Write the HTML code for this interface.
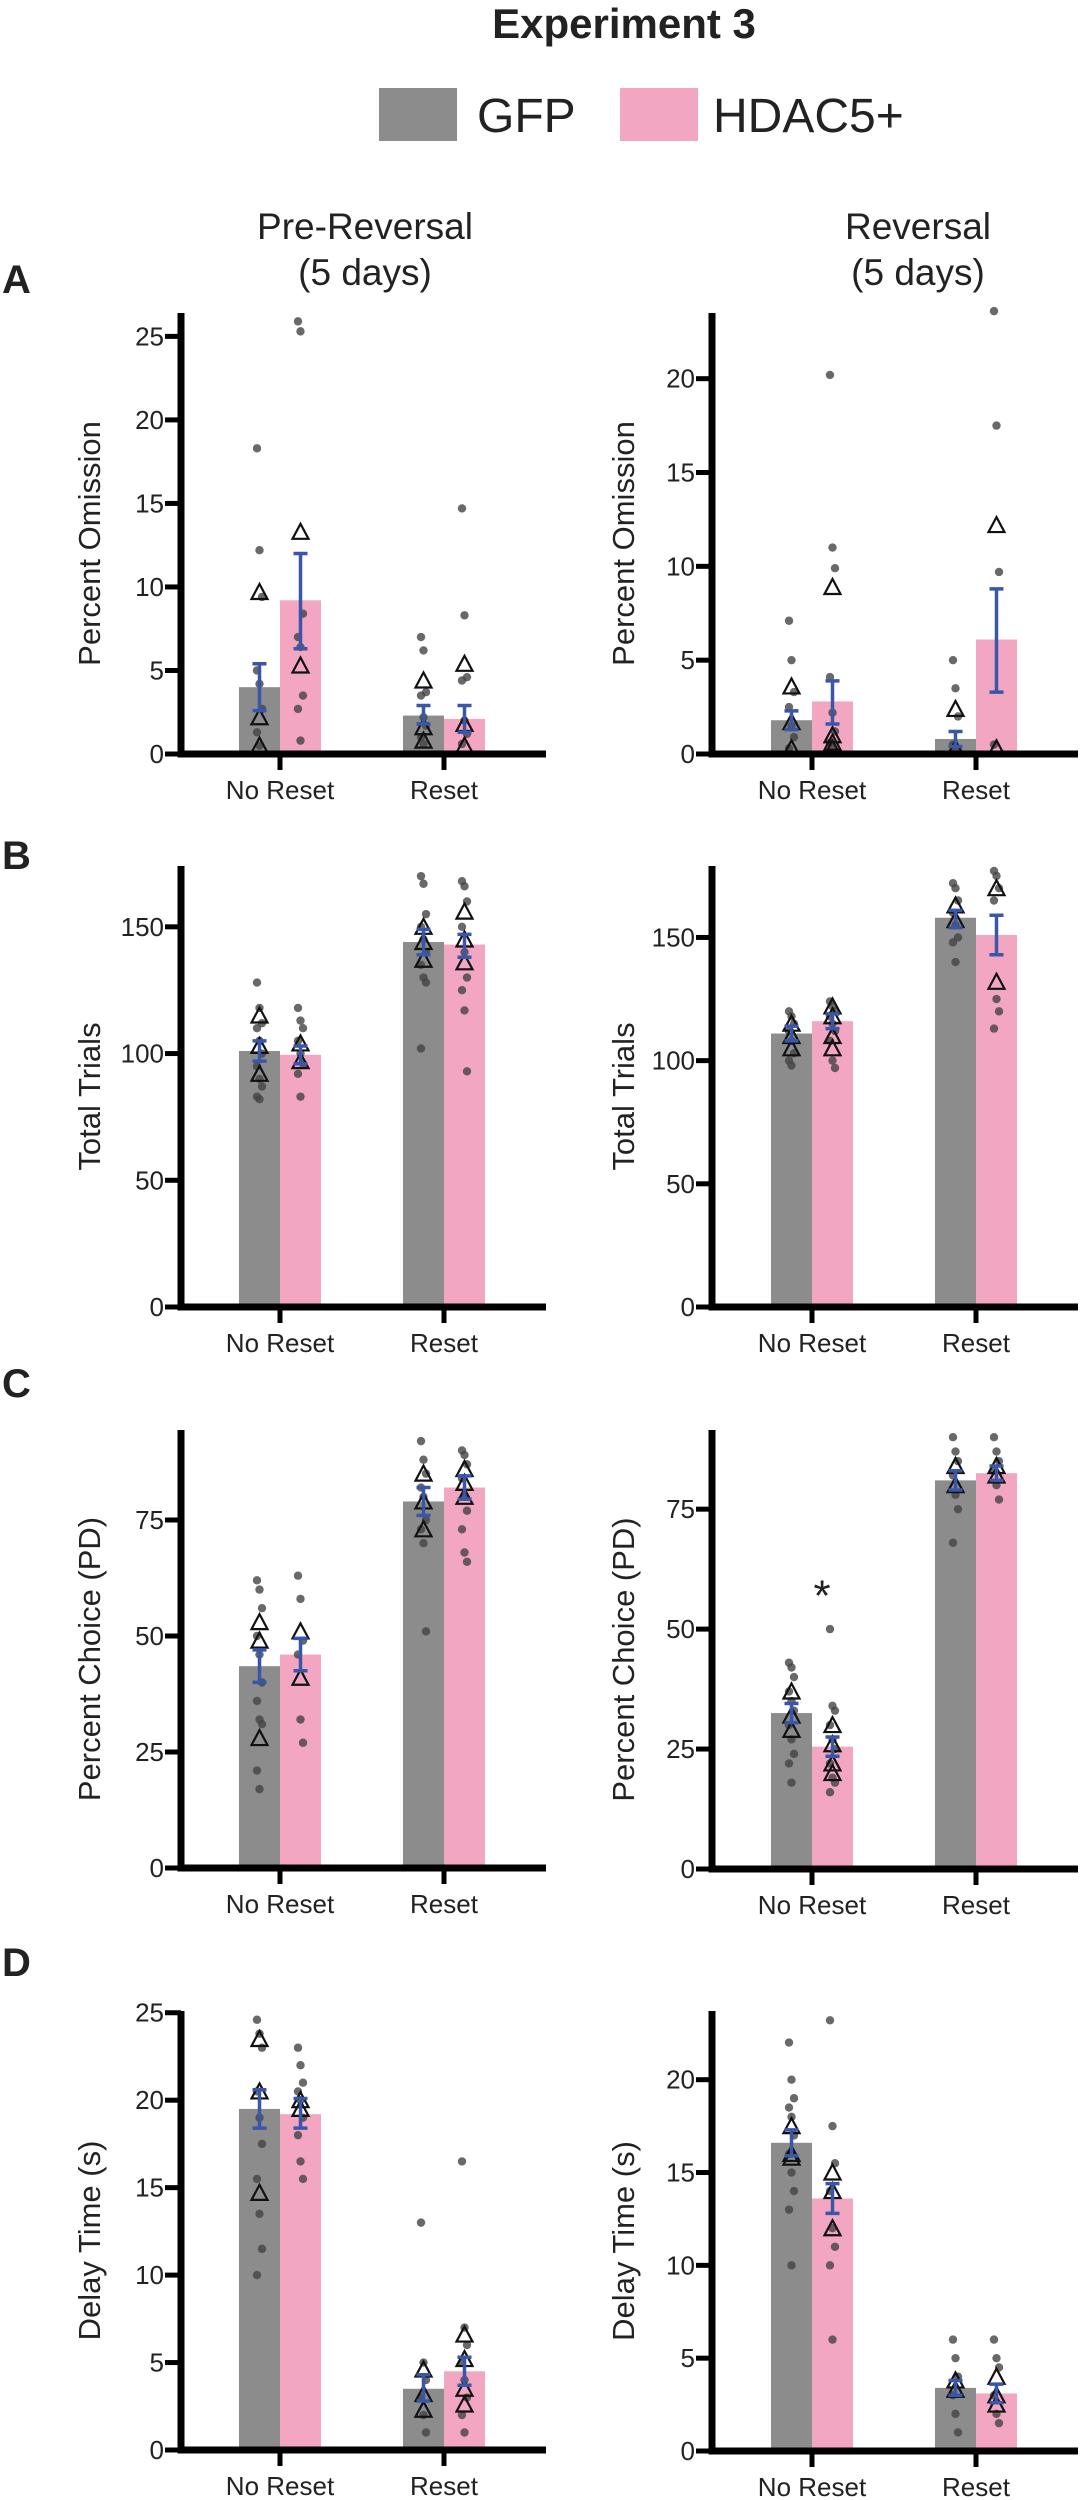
<!DOCTYPE html>
<html><head><meta charset="utf-8"><style>
html,body{margin:0;padding:0;background:#fff;}
svg{display:block;font-family:"Liberation Sans",Arial,sans-serif;}
</style></head><body>
<svg id="fig" width="1082" height="2500" viewBox="0 0 1082 2500" xmlns="http://www.w3.org/2000/svg">
<text x="624" y="38" font-size="42" font-weight="bold" text-anchor="middle" fill="#222">Experiment 3</text>
<g>
<rect x="379" y="88" width="78" height="53" fill="#8c8c8c"/>
<text x="477" y="132" font-size="48" fill="#222">GFP</text>
<rect x="620" y="88" width="78" height="53" fill="#f3a6c1"/>
<text x="713" y="132" font-size="48" fill="#222">HDAC5+</text>
</g>
<text x="365" y="239" font-size="37" text-anchor="middle" fill="#222">Pre-Reversal</text>
<text x="365" y="285" font-size="37" text-anchor="middle" fill="#222">(5 days)</text>
<text x="918" y="239" font-size="37" text-anchor="middle" fill="#222">Reversal</text>
<text x="918" y="285" font-size="37" text-anchor="middle" fill="#222">(5 days)</text>
<text x="2" y="293" font-size="40" font-weight="bold" fill="#222">A</text>
<text x="2" y="869" font-size="40" font-weight="bold" fill="#222">B</text>
<text x="2" y="1397" font-size="40" font-weight="bold" fill="#222">C</text>
<text x="2" y="1976" font-size="40" font-weight="bold" fill="#222">D</text>
<g id="plots"></g>
</svg>
<script>
const categories = ["No Reset", "Reset"];
const groups = ["GFP", "HDAC5+"];

// Panel A left - Percent Omission, Pre-Reversal
const aL_means = [4.0, 9.2, 2.3, 2.1];
const aL_semLo = [2.6, 6.3, 1.8, 1.3];
const aL_semHi = [5.4, 12.0, 2.9, 2.9];
const aL_dots = [[18.3,12.2,9.4,5.0,4.2,2.7,1.3,0.5],[25.9,25.3,8.4,7.0,6.4,3.5,2.7,0.8],[7.0,6.2,3.7,3.5,2.2,1.7,1.0,0.6],[14.7,8.3,4.6,4.4,2.0,1.2,0.6]];
const aL_tris = [[9.7,2.2,0.5],[13.3,5.3],[4.4,1.6,0.8],[5.4,1.8,0.5]];
const aL_ticks = [0,5,10,15,20,25];

// Panel A right - Percent Omission, Reversal
const aR_means = [1.8, 2.8, 0.8, 6.1];
const aR_semLo = [1.3, 1.6, 0.4, 3.3];
const aR_semHi = [2.3, 3.9, 1.2, 8.8];
const aR_dots = [[7.1,5.0,3.3,2.5,1.5,0.9,0.3],[20.2,11.0,9.9,4.1,2.2,1.2,0.6,0.3],[5.0,3.5,2.0,0.5,0.2],[23.6,17.5,9.7,0.5]];
const aR_tris = [[3.6,1.7,0.3],[8.9,1.0,0.6,0.3],[2.4,0.3],[12.2,0.3]];
const aR_ticks = [0,5,10,15,20];

// Panel B left - Total Trials
const bL_means = [101, 99.5, 144, 143];
const bL_semLo = [97, 96, 139, 138];
const bL_semHi = [105, 103, 149, 147];
const bL_dots = [[128,118,112,110,105,100,95,90,87,83,82],[118,113,110,105,100,96,92,83],[170,167,155,150,145,140,135,130,128,102],[168,166,160,150,140,130,125,117,93]];
const bL_tris = [[115,103,92],[104,97],[150,144,137],[156,145,136]];
const bL_ticks = [0,50,100,150];

// Panel B right - Total Trials
const bR_means = [111, 116, 158, 151];
const bR_semLo = [108, 113, 154, 143];
const bR_semHi = [114, 119, 161, 159];
const bR_dots = [[120,118,115,112,108,103,100,98],[124,122,120,118,115,112,108,100,97],[172,170,165,160,155,150,148,140],[177,175,170,165,125,120,113]];
const bR_tris = [[115,110,105],[122,118,110,105],[163,157],[170,132]];
const bR_ticks = [0,50,100,150];

// Panel C left - Percent Choice (PD)
const cL_means = [43.5, 46, 79, 82];
const cL_semLo = [40, 42.5, 76, 79.5];
const cL_semHi = [47, 49.5, 82, 84.5];
const cL_dots = [[62,60,56,50,46,40,36,32,31,21,17],[63,58,49,46,32,27],[92,88,85,82,80,75,73,70,51],[90,89,87,84,80,77,73,68,66]];
const cL_tris = [[53,49,28],[51,41],[85,79,73],[86,83,80]];
const cL_ticks = [0,25,50,75];

// Panel C right - Percent Choice (PD)
const cR_means = [32.5, 25.5, 81, 82.5];
const cR_semLo = [30.5, 23.5, 79, 81];
const cR_semHi = [34.5, 27.5, 83, 84];
const cR_dots = [[43,42,40,37,35,33,30,27,24,22,18],[50,34,33,30,27,25,22,19,18,16],[90,87,85,82,78,75,68],[90,87,85,83,80,77]];
const cR_tris = [[37,32,29],[30,26,22,20],[84,80],[84,82]];
const cR_ticks = [0,25,50,75];
const cR_star = 58.5;

// Panel D left - Delay Time (s)
const dL_means = [19.5, 19.2, 3.5, 4.5];
const dL_semLo = [18.4, 18.4, 2.8, 3.7];
const dL_semHi = [20.6, 20.1, 4.3, 5.3];
const dL_dots = [[24.6,23.8,23,20.5,19,17.5,15.5,13.5,11.5,10],[23,22,21,20.5,20,19,18,16.5,15.5],[13,5,4,3,2,1],[16.5,7,6,5,4,3,2,1]];
const dL_tris = [[23.5,20.5,14.7],[20,19.5],[4.6,3.2,2.3],[6.6,5.2,3.5,2.6]];
const dL_ticks = [0,5,10,15,20,25];

// Panel D right - Delay Time (s)
const dR_means = [16.6, 13.6, 3.4, 3.1];
const dR_semLo = [15.9, 12.8, 3.0, 2.6];
const dR_semHi = [17.3, 14.4, 3.8, 3.6];
const dR_dots = [[22,20,19,18.5,18,17,16,15,14,13,10],[23.2,17.5,15.5,14,12,11,10,6],[6,5,4,3,2,1],[6,5,4.5,3,2,1.5]];
const dR_tris = [[17.5,16,15.8],[15,14,12],[3.8,3.3],[4,3,2.5]];
const dR_ticks = [0,5,10,15,20];

const NS = "http://www.w3.org/2000/svg";
const root = document.getElementById("plots");
function mk(tag, attrs, parent) {
  const e = document.createElementNS(NS, tag);
  for (const k in attrs) e.setAttribute(k, attrs[k]);
  parent.appendChild(e);
  return e;
}

function panel(id, side, top, bottom, ymax, title, means, lo, hi, dots, tris, ticks) {
  const ax = side === "L" ? 181 : 712;
  const axEnd = side === "L" ? 546 : 1078;
  const cats = side === "L" ? [280, 444] : [812, 976];
  const y = v => bottom - (v / ymax) * (bottom - top);
  const g = mk("g", {}, root);
  
  
  // bars
  for (let i = 0; i < 4; i++) {
    const c = cats[Math.floor(i / 2)];
    const bx = i % 2 === 0 ? c - 41 : c;
    const cx = bx + 20.5;
    const bar = mk("rect", {x: bx, y: y(means[i]), width: 41, height: bottom - y(means[i]), fill: i % 2 === 0 ? "#8c8c8c" : "#f3a6c1"}, g);
    
    
    dots[i].forEach((v, j) => {
      const d = mk("circle", {cx: cx + ((j % 3) - 1) * 2.5, cy: y(v), r: 4.2, fill: "#444", "fill-opacity": 0.8}, g);
      
      
    });
    tris[i].forEach(v => {
      const ty = y(v);
      const t = mk("polygon", {points: (cx - 8) + "," + (ty + 7) + " " + (cx + 8) + "," + (ty + 7) + " " + cx + "," + (ty - 8), fill: "none", stroke: "#111", "stroke-width": 2.2}, g);
      
      
    });
    const eb = mk("path", {d: "M" + (cx - 7) + " " + y(hi[i]) + "H" + (cx + 7) + "M" + cx + " " + y(hi[i]) + "V" + y(lo[i]) + "M" + (cx - 7) + " " + y(lo[i]) + "H" + (cx + 7), stroke: "#3a56a8", "stroke-width": 3.5, fill: "none"}, g);
    
    
  }
  // axes
  const ya = mk("path", {d: "M" + ax + " " + top + "V" + (bottom + 3.5), stroke: "#000", "stroke-width": 7}, g);
  
  
  const xa = mk("path", {d: "M" + (ax - 3.5) + " " + bottom + "H" + axEnd, stroke: "#000", "stroke-width": 7}, g);
  
  
  ticks.forEach(t => {
    mk("path", {d: "M" + (ax - 16) + " " + y(t) + "H" + ax, stroke: "#000", "stroke-width": 5}, g);
    const tl = mk("text", {x: ax - 17, y: y(t) + 9, "font-size": 26, "text-anchor": "end", fill: "#222"}, g);
    tl.textContent = t;
    
    
  });
  cats.forEach((c, k) => {
    mk("path", {d: "M" + c + " " + bottom + "V" + (bottom + 16), stroke: "#000", "stroke-width": 5}, g);
    const cl = mk("text", {x: c, y: bottom + 45, "font-size": 26, "text-anchor": "middle", fill: "#222"}, g);
    cl.textContent = categories[k];
    
    
  });
  const tx = side === "L" ? 100 : 634;
  const ty = (top + bottom) / 2 + 10;
  const yt = mk("text", {x: tx, y: ty, "font-size": 31, "text-anchor": "middle", fill: "#222", transform: "rotate(-90 " + tx + " " + ty + ")"}, g);
  yt.textContent = title;
  
  
  return y;
}

panel("a-left", "L", 313, 754, 26.4, "Percent Omission", aL_means, aL_semLo, aL_semHi, aL_dots, aL_tris, aL_ticks);
panel("a-right", "R", 313, 754, 23.5, "Percent Omission", aR_means, aR_semLo, aR_semHi, aR_dots, aR_tris, aR_ticks);
panel("b-left", "L", 866, 1307, 174, "Total Trials", bL_means, bL_semLo, bL_semHi, bL_dots, bL_tris, bL_ticks);
panel("b-right", "R", 866, 1307, 179, "Total Trials", bR_means, bR_semLo, bR_semHi, bR_dots, bR_tris, bR_ticks);
panel("c-left", "L", 1430, 1868, 94.4, "Percent Choice (PD)", cL_means, cL_semLo, cL_semHi, cL_dots, cL_tris, cL_ticks);
const cy = panel("c-right", "R", 1430, 1869, 91.5, "Percent Choice (PD)", cR_means, cR_semLo, cR_semHi, cR_dots, cR_tris, cR_ticks);
panel("d-left", "L", 2011, 2450, 25.1, "Delay Time (s)", dL_means, dL_semLo, dL_semHi, dL_dots, dL_tris, dL_ticks);
panel("d-right", "R", 2011, 2451, 23.7, "Delay Time (s)", dR_means, dR_semLo, dR_semHi, dR_dots, dR_tris, dR_ticks);

const star = mk("text", {x: 822, y: cy(cR_star) + 22, "font-size": 44, "text-anchor": "middle", fill: "#222"}, root);
star.textContent = "*";


</script>
</body></html>
